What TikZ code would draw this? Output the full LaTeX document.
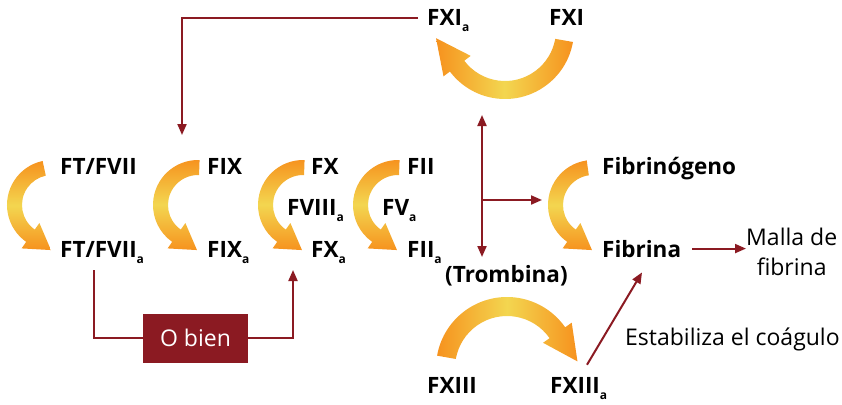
\documentclass[tikz,border=0pt]{standalone}
\usepackage{fontspec}
\setmainfont{Open Sans}
\usetikzlibrary{arrows.meta,calc}
\definecolor{dred}{RGB}{139,26,34}
\definecolor{orng}{RGB}{246,146,30}
\definecolor{ylw}{RGB}{243,214,80}
\newcommand{\sba}{\raisebox{-6pt}{\fontsize{12}{12}\selectfont a}}
% #1 cx, #2 cy, #3 R, #4 r, #5 start, #6 end, #7 sign, #8 tip length, #9 style
\newcommand{\garc}[9]{%
  \shade[#9] ($(#1,#2)+({#5}:{#3})$) arc[start angle=#5,end angle=#6,radius=#3]
   -- ($(#1,#2)+({#6}:{#3+8})$)
   -- ($(#1,#2)+({#6}:{(#3+#4)/2})+({#6+(#7)*90}:{#8})$)
   -- ($(#1,#2)+({#6}:{#4-8})$)
   -- ($(#1,#2)+({#6}:{#4})$) arc[start angle=#6,end angle=#5,radius=#4] -- cycle;}
\tikzset{
  lbl/.style={font=\bfseries\fontsize{22.5}{22.5}\selectfont, inner sep=0pt, anchor=base west},
  reg/.style={font=\fontsize{23}{30}\selectfont, inner sep=0pt},
  conn/.style={draw=dred, line width=2pt},
  tipa/.style={-{Triangle[length=11pt,width=9pt]}},
  vshade/.style={top color=orng, bottom color=orng, middle color=ylw},
  hshade/.style={left color=orng, right color=orng, middle color=ylw},
  obox/.style={fill=dred, text=white, minimum width=105pt, minimum height=49pt, inner sep=0pt, font=\fontsize{23}{23}\selectfont}
}
\begin{document}
\begin{tikzpicture}[x=1pt,y=-1pt]
\useasboundingbox (0,0) rectangle (842,404);
% orange arcs
\garc{52}{205}{45}{30}{258}{125}{-1}{25}{vshade}
\garc{198}{205}{45}{30}{272}{125}{-1}{25}{vshade}
\garc{303}{205}{45}{30}{272}{125}{-1}{25}{vshade}
\garc{398}{205}{45}{30}{272}{125}{-1}{25}{vshade}
\garc{593}{205}{45}{30}{262}{125}{-1}{25}{vshade}
\garc{505}{30}{69}{51}{10}{143}{1}{35}{hshade}
\garc{507}{368}{71}{52}{190}{325}{1}{35}{hshade}
% labels
\node[lbl] (ft) at (60,174) {FT/FVII};
\node[lbl] (fta) at (60,257) {FT/FVII\sba};
\node[lbl] (fix) at (207,174) {FIX};
\node[lbl] (fixa) at (207,257) {FIX\sba};
\node[lbl] (fx) at (311,174) {FX};
\node[lbl] (fviii) at (287,215) {FVIII\sba};
\node[lbl] (fxa) at (311,257) {FX\sba};
\node[lbl] (fii) at (407,174) {FII};
\node[lbl] (fva) at (382,215) {FV\sba};
\node[lbl] (fiia) at (407,257) {FII\sba};
\node[lbl] (tromb) at (445,282) {(Trombina)};
\node[lbl] (fibg) at (602,174) {Fibrinógeno};
\node[lbl] (fib) at (602,257) {Fibrina};
\node[reg, align=center, anchor=west] (malla) at (746,252) {Malla de\\fibrina};
\node[reg, anchor=base west] (estab) at (625,345) {Estabiliza el coágulo};
\node[lbl] (fxiii) at (427,393) {FXIII};
\node[lbl] (fxiiia) at (550,393) {FXIII\sba};
\node[lbl] (fxia) at (427,26) {FXI\sba};
\node[lbl] (fxi) at (549,26) {FXI};
\node[obox] (obien) at (195.5,338) {O bien};
% connectors
\coordinate (fxiaL) at ($(fxia.base west)+(-9,-8)$);
\coordinate (fixarc) at (182,135);
\draw[conn,tipa] (fxiaL) -| (fixarc);
\coordinate (ob1) at ($(fta.base west)+(34,13)$);
\coordinate (ob2) at ($(fxa.base west)+(-18,13)$);
\draw[conn] (ob1) |- (obien.west);
\draw[conn,tipa] (obien.east) -| (ob2);
\coordinate (dtop) at (482,115);
\coordinate (dbot) at (482,257);
\draw[conn,{Triangle[length=11pt,width=9pt]}-{Triangle[length=11pt,width=9pt]}] (dtop) -- (dbot);
\coordinate (br) at (482,200);
\coordinate (brend) at (542,200);
\draw[conn,tipa] (br) -- (brend);
\draw[conn,tipa,shorten <=11pt] (fib.east) -- (malla.west |- fib.east);
\coordinate (s13) at ($(fxiiia.north west)+(37,-12)$);
\coordinate (e13) at ($(fib.south west)+(40,15)$);
\draw[conn,tipa] (s13) -- (e13);
\end{tikzpicture}
\end{document}
